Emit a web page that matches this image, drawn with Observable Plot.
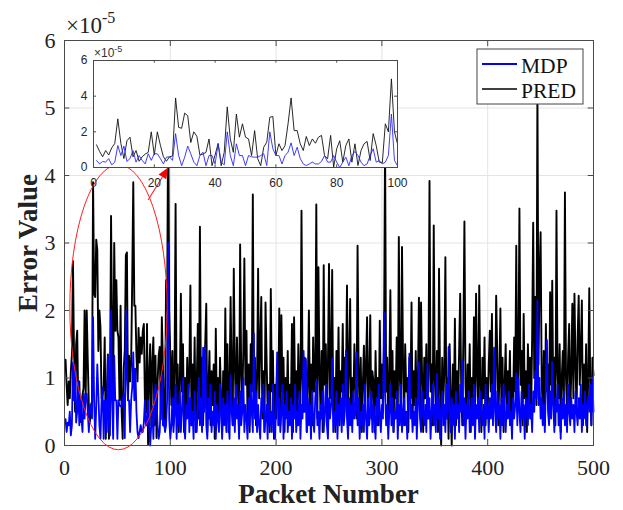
<!DOCTYPE html>
<html><head><meta charset="utf-8">
<script src="https://cdn.jsdelivr.net/npm/d3@7"></script>
<script src="https://cdn.jsdelivr.net/npm/@observablehq/plot@0.6"></script>
<style>
html,body{margin:0;padding:0;background:#fff;}
#wrap{position:relative;width:623px;height:510px;overflow:hidden;background:#fff;}
#wrap svg{position:absolute;}
</style></head><body><div id="wrap"></div>
<script>
// Error values in units of 1e-5, packets 1..500
const pred = [
1.27,0.9,0.6,0.95,0.7,1.1,1.35,2.73,1.35,0.5,
1.5,1.7,0.6,0.95,0.35,0.6,0.75,0.85,2.0,0.7,
2.0,1.25,0.6,0.35,0.6,0.65,3.9,2.25,2.2,3.05,
2.9,1.4,2.0,1.75,0.7,0.75,0.85,1.6,0.1,0.7,
1.35,0.1,0.85,3.4,1.6,0.85,3.0,1.7,2.45,1.7,
1.6,0.67,2.07,0.5,0.1,1.14,1.42,2.82,2.86,0.67,
1.33,0.95,1.23,2.45,3.9,2.07,2.07,1.33,0.95,1.74,
1.23,1.6,1.36,1.7,1.8,0.67,0.49,1.8,0.02,1.05,
1.5,0.3,1.23,1.6,0.3,1.33,0.11,0.95,1.33,1.46,
0.39,1.9,1.23,0.3,0.26,2.45,2.0,4.97,2.0,1.33,
0.6,1.4,0.3,1.1,3.58,0.5,1.2,0.2,0.9,2.25,
0.8,1.5,0.2,1.0,0.4,1.3,0.6,1.1,2.37,0.3,
1.2,0.5,1.6,0.2,0.9,1.8,0.4,3.24,0.7,1.3,
0.3,1.0,1.5,2.1,0.2,0.8,1.4,0.3,1.1,0.6,
1.2,0.1,1.73,0.5,1.0,0.3,1.3,0.7,0.2,1.1,
0.4,2.03,0.6,1.5,0.2,0.9,2.2,1.0,0.3,2.62,
1.2,0.5,1.6,0.8,0.2,2.98,1.1,0.6,1.4,2.77,
0.9,1.7,0.4,1.2,0.2,1.5,0.8,3.72,0.6,1.3,
0.3,1.0,2.62,0.7,1.5,2.2,0.4,1.1,0.2,2.12,
1.3,0.5,0.9,0.2,2.32,0.8,1.4,0.1,0.9,0.4,
1.2,0.6,2.03,0.3,1.93,0.8,1.3,0.2,1.0,0.5,
1.4,0.3,0.9,0.6,1.8,0.2,1.9,0.7,1.1,0.3,
1.5,0.8,0.4,3.48,1.0,0.5,1.3,1.26,0.2,0.9,
2.0,0.6,1.2,0.3,1.6,0.8,1.0,3.57,0.4,2.64,
1.1,0.5,1.4,0.2,2.67,0.9,1.5,0.3,1.2,2.69,
0.7,1.3,2.6,0.5,1.0,0.2,1.4,0.6,1.75,0.3,
1.1,0.8,1.8,0.4,1.3,0.9,2.37,0.5,1.2,2.17,
0.3,1.0,0.6,1.5,0.9,0.4,2.96,1.1,0.5,1.3,
0.2,0.9,1.48,0.6,1.2,1.9,0.3,1.0,1.93,0.4,
1.1,0.95,0.2,1.4,0.6,1.0,0.3,1.85,0.7,1.2,
0.5,1.5,4.5,0.8,1.3,0.3,1.0,2.3,0.6,1.4,
0.2,1.1,0.7,1.6,0.4,3.09,1.0,0.5,2.94,1.2,
0.3,1.5,0.8,1.0,0.2,1.3,0.7,2.12,0.4,1.1,
0.6,1.4,0.3,0.9,2.19,0.5,2.12,1.0,0.2,1.3,
0.7,1.5,0.4,1.1,3.92,0.8,1.2,0.3,3.26,1.0,
0.5,1.4,0.2,2.62,0.9,0.0,1.3,0.6,1.1,2.79,
0.4,1.0,0.1,1.5,0.7,0.0,1.2,0.5,1.88,0.3,
1.1,0.6,1.4,2.25,0.8,0.3,1.6,3.32,0.9,0.4,
1.2,0.7,1.5,0.2,1.0,0.6,1.9,0.4,2.25,1.1,
0.5,2.37,0.9,0.2,1.3,0.7,1.6,0.3,1.0,0.5,
1.2,1.7,0.8,1.95,0.4,1.1,0.6,2.22,1.4,0.3,
1.0,2.03,0.5,1.3,0.2,0.9,1.5,0.4,1.1,0.7,
1.4,0.3,1.0,0.6,1.6,0.8,2.96,0.5,1.2,3.51,
0.9,1.4,0.3,1.95,0.7,1.1,0.2,1.5,0.8,1.3,
0.4,1.6,3.3,1.0,2.2,0.6,5.3,1.2,2.5,3.16,
1.0,0.5,1.4,0.3,1.8,0.8,1.2,0.4,2.27,0.9,
2.44,0.6,1.3,0.3,3.48,1.1,0.7,1.5,0.2,1.0,
1.4,0.6,3.75,1.0,0.5,1.3,1.8,0.4,1.1,2.1,
0.7,2.25,1.2,0.5,1.6,2.22,0.9,1.4,2.15,0.3,
1.2,0.6,1.5,0.2,1.0,2.33,0.8,0.3,1.3,1.04
];
const mdp = [
0.39,0.2,0.34,0.3,0.5,0.15,0.3,1.23,0.67,1.2,
0.34,0.5,0.95,0.3,0.67,0.4,0.2,0.77,0.4,0.77,
0.77,0.5,0.2,0.58,0.6,0.4,1.9,0.67,0.1,0.58,
1.2,0.77,0.3,0.1,0.67,0.86,0.1,0.67,0.67,0.2,
1.33,0.3,0.15,2.0,0.67,0.1,1.33,0.67,0.67,0.1,
0.67,0.6,0.58,0.58,0.67,0.77,0.11,2.0,1.05,0.67,
0.67,0.2,0.67,0.86,1.38,0.67,1.14,0.5,0.2,0.11,
0.2,0.3,0.2,0.2,0.34,0.67,0.3,0.3,0.67,0.3,
0.0,0.3,0.58,0.1,0.67,0.9,0.67,0.3,0.1,0.2,
0.67,1.05,0.3,0.39,0.2,0.3,0.67,3.0,0.39,0.1,
0.3,0.7,0.2,0.5,0.9,0.1,0.6,0.3,0.8,0.2,
0.5,1.0,0.3,0.1,0.6,0.4,0.9,0.2,0.7,0.3,
0.5,0.1,0.8,0.4,0.2,0.6,1.0,0.3,0.7,0.2,
1.45,0.5,1.48,0.3,0.1,0.7,0.4,0.9,0.2,0.5,
0.3,0.8,0.1,0.6,0.4,0.2,0.9,0.5,0.1,0.7,
0.3,0.6,0.2,0.8,0.4,0.1,1.04,0.5,0.3,0.7,
0.2,0.9,0.4,0.6,0.1,0.8,0.3,0.5,1.0,0.2,
0.6,0.4,0.1,0.7,0.3,0.9,0.5,0.2,1.66,0.4,
0.8,0.2,0.6,0.3,0.1,0.7,0.5,0.9,0.2,0.4,
0.6,0.1,0.8,0.3,0.5,0.2,0.9,0.4,0.1,0.6,
1.38,0.3,0.7,0.2,0.5,0.9,0.1,0.6,0.4,0.8,
0.2,0.5,0.3,0.7,0.1,0.6,0.4,0.9,0.2,0.5,
0.3,0.8,0.1,0.6,0.4,1.4,0.5,1.29,0.2,0.7,
0.3,0.6,0.1,0.8,0.4,0.2,0.7,0.96,0.3,0.5,
0.1,0.6,0.4,0.8,0.2,0.5,0.9,0.3,0.1,0.7,
0.4,0.6,1.29,0.2,0.5,0.3,0.8,0.1,0.6,0.4,
0.7,0.2,0.9,0.3,0.5,1.4,0.4,0.1,0.7,0.3,
0.6,0.2,0.8,0.4,0.5,1.38,0.3,0.7,0.1,0.5,
0.3,0.6,0.2,0.9,0.4,0.1,0.7,0.3,0.5,0.8,
0.2,0.6,0.4,0.1,0.7,0.3,0.9,0.5,0.2,0.6,
0.4,1.97,0.8,0.3,0.6,0.1,0.5,0.9,0.3,0.7,
0.2,0.5,0.4,0.8,0.1,0.6,0.3,0.9,0.2,0.5,
0.7,0.3,0.5,0.1,0.8,1.36,0.4,0.6,0.2,0.5,
0.3,0.7,0.1,0.6,1.23,0.4,0.2,0.8,0.5,0.3,
0.6,0.2,1.21,0.4,0.7,0.1,0.5,0.9,0.3,0.6,
0.2,1.06,0.4,0.7,0.1,0.5,0.8,0.3,0.6,0.2,
0.9,0.4,1.46,0.5,0.2,0.7,0.3,0.6,0.1,0.8,
0.4,0.6,0.2,0.9,0.5,1.26,0.3,0.7,0.1,0.6,
0.4,0.8,0.2,0.5,0.7,0.3,0.9,0.1,0.6,0.4,
0.7,0.2,0.8,0.5,0.3,0.6,0.1,0.9,0.4,0.6,
0.2,0.7,0.4,0.9,0.3,1.45,0.5,0.2,0.8,0.4,
0.6,0.1,0.7,0.3,0.9,0.5,0.2,0.6,0.4,0.8,
0.3,0.5,0.1,0.7,0.4,0.6,1.07,0.3,0.99,0.5,
0.2,0.8,0.4,0.6,0.1,0.7,0.5,0.3,0.9,0.4,
0.6,0.2,0.8,0.5,1.1,0.7,2.15,0.6,1.0,0.4,
0.7,0.3,0.6,0.2,0.9,1.56,0.5,0.3,0.8,0.4,
1.24,0.6,0.2,0.7,0.5,0.9,0.3,0.6,0.1,0.7,
0.4,0.8,0.3,0.6,0.2,0.9,0.5,0.3,0.7,0.4,
0.6,0.2,0.8,0.5,0.3,0.7,0.4,0.9,0.2,0.6,
0.4,0.8,0.3,0.6,0.72,0.5,0.9,0.3,1.01,0.5
];
const packets = pred.map((_, i) => i + 1);
const xTicks = [0, 100, 200, 300, 400, 500];
const yTicks = [0, 1, 2, 3, 4, 5, 6];
const insetXTicks = [0, 20, 40, 60, 80, 100];
const insetYTicks = [0, 2, 4, 6];
const seriesNames = ["MDP", "PRED"];
const seriesColors = ["#0000ff", "#000000"];
const xLabel = "Packet Number";
const yLabel = "Error Value";
const exponentBase = "\u00d710";
const exponent = "-5";
const insetMax = 100;
// highlighted region (packets / values) and arrow target on inset
const ellipseCenter = [51.5, 2.04];
const ellipseRadii = [46, 2.11];
const arrowFrom = [79.5, 3.63];
const arrowTo = [98.5, 4.11];

const rows = packets.map((p, i) => ({packet: p, pred: pred[i], mdp: mdp[i]}));
const insetRows = rows.filter(d => d.packet <= insetMax);

const serif = "'Liberation Serif','Times New Roman',serif";
const sans = "'Liberation Sans',Arial,Helvetica,sans-serif";
const axisCol = "#4a4a4a";
const gridCol = "#e4e4e4";
const inner = xTicks.slice(1, -1), innerY = yTicks.slice(1, -1);

const main = Plot.plot({
  width: 623, height: 510,
  marginLeft: 64, marginRight: 30, marginTop: 40, marginBottom: 65,
  style: {fontFamily: serif, fontSize: "22px", background: "#fff", color: "#222", overflow: "visible"},
  x: {domain: [0, 500], ticks: xTicks, tickSize: 0, tickPadding: 14, tickFormat: d3.format("d"), label: null},
  y: {domain: [0, 6], ticks: yTicks, tickSize: 0, tickPadding: 9, tickFormat: d3.format("d"), label: null},
  marks: [
    Plot.ruleX(inner, {stroke: gridCol}),
    Plot.ruleY(innerY, {stroke: gridCol}),
    Plot.lineY(rows, {x: "packet", y: "pred", stroke: seriesColors[1], strokeWidth: 1.9}),
    Plot.lineY(rows, {x: "packet", y: "mdp", stroke: seriesColors[0], strokeWidth: 1.8}),
    Plot.frame({stroke: axisCol}),
    Plot.ruleX(inner, {y1: 0, y2: 0.09, stroke: axisCol}),
    Plot.ruleX(inner, {y1: 5.91, y2: 6, stroke: axisCol}),
    Plot.ruleY(innerY, {x1: 0, x2: 5, stroke: axisCol}),
    Plot.ruleY(innerY, {x1: 495, x2: 500, stroke: axisCol})
  ]
});
main.style.left = "0px"; main.style.top = "0px";
document.getElementById("wrap").appendChild(main);

const sx = main.scale("x"), sy = main.scale("y");
const svg = d3.select(main);

// axis titles
svg.append("text").attr("x", 328.5).attr("y", 503).attr("text-anchor", "middle")
  .attr("font-family", serif).attr("font-weight", "bold").attr("font-size", 27).attr("fill", "#222").text(xLabel);
svg.append("text").attr("transform", "translate(37,243) rotate(-90)").attr("text-anchor", "middle")
  .attr("font-family", serif).attr("font-weight", "bold").attr("font-size", 27).attr("fill", "#222").text(yLabel);

// exponent
const ex = svg.append("text").attr("x", 66).attr("y", 33).attr("text-anchor", "start")
  .attr("font-family", serif).attr("fill", "#222");
ex.append("tspan").attr("font-size", 23).text(exponentBase);
ex.append("tspan").attr("font-size", 16).attr("dy", -10).text(exponent);

// red highlight ellipse and arrow
const cx = sx.apply(ellipseCenter[0]), cy = sy.apply(ellipseCenter[1]);
svg.append("ellipse").attr("cx", cx).attr("cy", cy)
  .attr("rx", sx.apply(ellipseCenter[0] + ellipseRadii[0]) - cx)
  .attr("ry", cy - sy.apply(ellipseCenter[1] + ellipseRadii[1]))
  .attr("fill", "none").attr("stroke", "#ff2020").attr("stroke-width", 1);
const ax0 = sx.apply(arrowFrom[0]), ay0 = sy.apply(arrowFrom[1]);
const ax1 = sx.apply(arrowTo[0]), ay1 = sy.apply(arrowTo[1]);
const len = Math.hypot(ax1 - ax0, ay1 - ay0), ux = (ax1 - ax0) / len, uy = (ay1 - ay0) / len;
const hl = 11, hw = 4.5;
svg.append("line").attr("x1", ax0).attr("y1", ay0).attr("x2", ax1 - ux * hl).attr("y2", ay1 - uy * hl)
  .attr("stroke", "#ff2020").attr("stroke-width", 1.1);
svg.append("polygon").attr("points", [
  [ax1, ay1],
  [ax1 - ux * hl - uy * hw, ay1 - uy * hl + ux * hw],
  [ax1 - ux * hl + uy * hw, ay1 - uy * hl - ux * hw]
].map(p => p.join(",")).join(" ")).attr("fill", "#ff0000");

// legend
const lg = svg.append("g");
lg.append("rect").attr("x", 477).attr("y", 49).attr("width", 106).attr("height", 55)
  .attr("fill", "#fff").attr("stroke", "#444").attr("stroke-width", 1);
seriesNames.forEach((name, i) => {
  const y = 64 + i * 25;
  lg.append("line").attr("x1", 482).attr("x2", 517).attr("y1", y).attr("y2", y)
    .attr("stroke", seriesColors[i]).attr("stroke-width", i === 0 ? 2.2 : 1.4);
  lg.append("text").attr("x", 521).attr("y", y + 8.5).attr("text-anchor", "start")
    .attr("font-family", serif).attr("font-size", 21.5).attr("fill", "#111").text(name);
});

// inset
const ii = insetXTicks.slice(1, -1), iy = insetYTicks.slice(1, -1);
const inset = Plot.plot({
  width: 344, height: 149,
  marginLeft: 30, marginRight: 10, marginTop: 20, marginBottom: 22,
  style: {fontFamily: sans, fontSize: "12px", background: "transparent", color: "#262626", overflow: "visible"},
  x: {domain: [0, insetMax], ticks: insetXTicks, tickSize: 0, tickPadding: 11, tickFormat: d3.format("d"), label: null},
  y: {domain: [0, 6], ticks: insetYTicks, tickSize: 0, tickPadding: 6, tickFormat: d3.format("d"), label: null},
  marks: [
    Plot.frame({fill: "#fff"}),
    Plot.lineY(insetRows, {x: "packet", y: "pred", stroke: "#111", strokeWidth: 0.9}),
    Plot.lineY(insetRows, {x: "packet", y: "mdp", stroke: "#2828ff", strokeWidth: 0.9}),
    Plot.frame({stroke: axisCol}),
    Plot.ruleX(ii, {y1: 0, y2: 0.15, stroke: axisCol}),
    Plot.ruleX(ii, {y1: 5.85, y2: 6, stroke: axisCol}),
    Plot.ruleY(iy, {x1: 0, x2: 1, stroke: axisCol}),
    Plot.ruleY(iy, {x1: 99, x2: 100, stroke: axisCol})
  ]
});
inset.style.left = "63px"; inset.style.top = "40px";
document.getElementById("wrap").appendChild(inset);
const iex = d3.select(inset).append("text").attr("x", 31).attr("y", 17).attr("text-anchor", "start")
  .attr("font-family", sans).attr("fill", "#333");
iex.append("tspan").attr("font-size", 12).text(exponentBase);
iex.append("tspan").attr("font-size", 9).attr("dy", -5).text(exponent);
</script>
</body></html>
